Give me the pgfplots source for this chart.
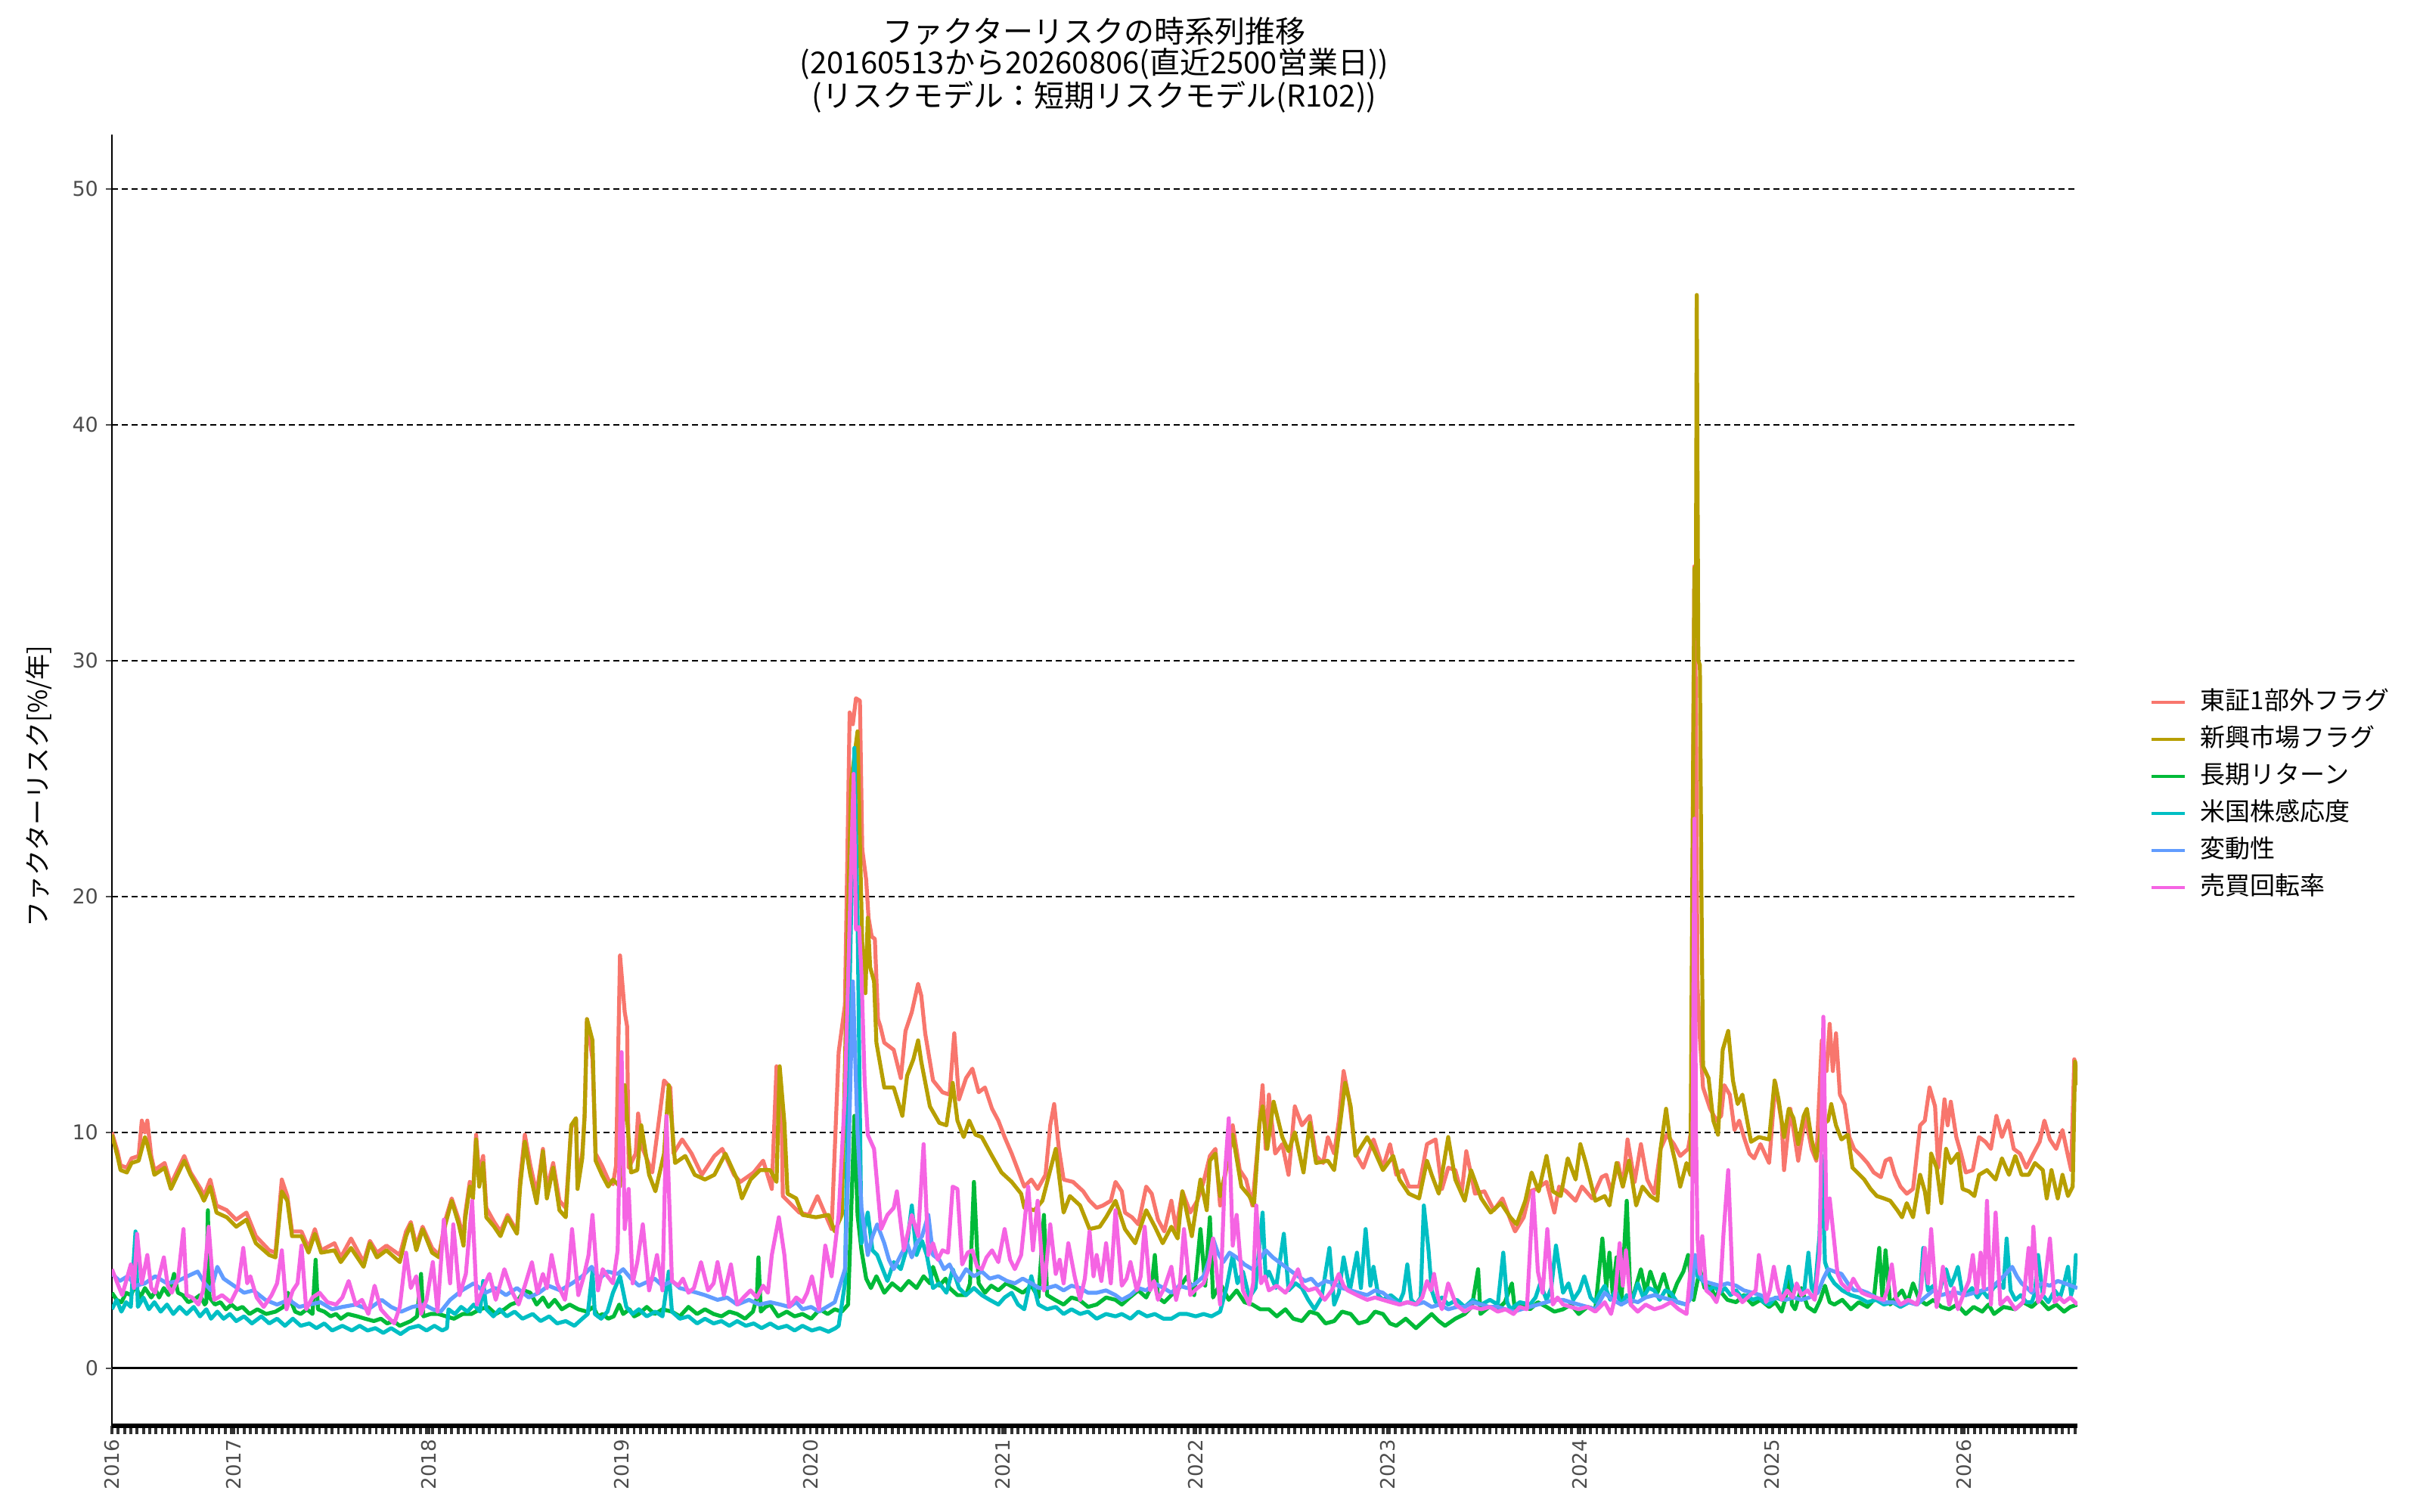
\documentclass[border=0pt]{standalone}
\usepackage{fontspec}
\setmainfont{DejaVu Sans}
\newfontfamily\jp{Noto Sans CJK JP}
\usepackage{pgfplots}
\pgfplotsset{compat=1.18}
\definecolor{cR}{HTML}{F8766D}
\definecolor{cG}{HTML}{B79F00}
\definecolor{cGr}{HTML}{00BA38}
\definecolor{cC}{HTML}{00BFC4}
\definecolor{cB}{HTML}{619CFF}
\definecolor{cP}{HTML}{F564E3}
\definecolor{tickgray}{HTML}{4D4D4D}
\begin{document}
\begin{tikzpicture}
\path[use as bounding box] (0pt,0pt) rectangle (1600pt,1000pt);
\begin{axis}[
  at={(74pt,57pt)}, anchor=south west,
  scale only axis, width=1299.5pt, height=854pt,
  xmin=0, xmax=2499, ymin=-2.44, ymax=52.3,
  axis x line*=bottom, axis y line*=left,
  x axis line style={line width=3pt, -},
  y axis line style={line width=1.4pt, -},
  xtick={0,155,403,648,888,1133,1378,1622,1866,2111,2355},
  xticklabels={2016,2017,2018,2019,2020,2021,2022,2023,2024,2025,2026},
  minor xtick={0,8,...,2496},
  xtick style={color=black!80, line width=1.9pt},
  minor x tick style={color=black!80, line width=1.9pt},
  major tick length=5.5pt, minor tick length=5.5pt,
  tick align=outside,
  ytick={10,20,30,40,50},
  extra y ticks={0},
  extra y tick style={major grid style={solid, black, line width=1.5pt}},
  ytick style={color=tickgray, line width=1pt, /pgfplots/major tick length=4pt},
  xticklabel style={rotate=90, anchor=east, font=\fontsize{13}{15}\selectfont, text=tickgray},
  yticklabel style={font=\fontsize{13.5}{15}\selectfont, text=tickgray},
  /pgf/number format/assume math mode=true,
  ymajorgrids, major grid style={dash pattern=on 4pt off 2.5pt, black, line width=1pt},
  legend cell align=left,
  legend style={at={(1.0369,0.5726)}, anchor=north west, draw=none, fill=none,
    inner sep=0pt, row sep=3.5pt,
    nodes={inner sep=2pt, text height=13pt, text depth=4pt},
    font=\jp\fontsize{16.5}{18}\selectfont},
  legend image code/.code={\draw[#1, line width=2pt] (0pt,0pt) -- (22pt,0pt); \path (29pt,0pt);},
  every axis plot/.append style={line width=2.6pt, line join=round, mark=none},
  clip=true,
]
% 東証1部外フラグ
\addplot[cR] coordinates {
(0,10.0)(7,9.2)(11,8.6)(19,8.5)(25,8.9)(34,9.0)(38,10.5)(42,10.0)(45,10.5)(50,9.0)(54,8.4)(67,8.7)(75,7.8)(92,9.0)(100,8.3)(113,7.6)(117,7.3)(125,8.0)(133,6.9)(146,6.7)(158,6.3)(171,6.6)(183,5.6)(200,5.0)(208,4.9)(216,8.0)(223,7.3)(229,5.8)(241,5.8)(250,5.1)(258,5.9)(266,5.0)(283,5.3)(291,4.7)(304,5.5)(320,4.5)(328,5.4)(337,4.9)(349,5.2)(366,4.8)(374,5.8)(380,6.2)(387,5.2)(395,6.0)(407,5.1)(416,4.8)(424,6.3)(432,7.2)(441,6.3)(447,5.5)(449,6.5)(455,7.9)(459,7.4)(463,9.9)(467,8.2)(472,9.0)(476,6.8)(486,6.2)(494,5.8)(503,6.5)(515,5.8)(519,8.0)(525,9.9)(532,8.6)(540,7.4)(548,9.3)(553,7.6)(561,8.7)(569,7.1)(577,6.8)(584,10.2)(590,10.6)(592,7.9)(598,9.1)(601,10.7)(604,14.8)(611,13.1)(615,9.1)(623,8.6)(631,8.0)(637,7.8)(641,8.6)(646,17.5)(652,15.1)(655,14.5)(657,8.5)(666,9.1)(669,10.8)(675,9.3)(687,8.3)(702,12.2)(710,11.9)(714,9.1)(725,9.7)(737,9.1)(750,8.2)(766,9.0)(776,9.3)(791,8.2)(799,7.9)(816,8.3)(828,8.8)(839,7.6)(845,12.8)(851,11.6)(853,7.3)(874,6.6)(886,6.5)(897,7.3)(915,5.9)(924,13.4)(932,15.4)(938,27.8)(942,27.3)(946,28.4)(951,28.3)(954,22.0)(959,20.7)(962,19.1)(966,18.3)(970,18.2)(974,14.8)(977,14.5)(982,13.8)(994,13.5)(1003,12.3)(1009,14.3)(1017,15.1)(1025,16.3)(1029,15.8)(1034,14.2)(1044,12.2)(1056,11.7)(1065,11.6)(1071,14.2)(1077,11.4)(1086,12.3)(1094,12.7)(1102,11.7)(1110,11.9)(1119,11.0)(1127,10.5)(1135,9.8)(1144,9.1)(1152,8.4)(1160,7.7)(1169,8.0)(1177,7.6)(1187,8.2)(1193,10.3)(1198,11.2)(1204,9.3)(1210,8.0)(1222,7.9)(1235,7.5)(1243,7.1)(1252,6.8)(1260,6.9)(1270,7.1)(1276,7.9)(1284,7.5)(1288,6.6)(1297,6.4)(1305,6.1)(1315,7.7)(1322,7.4)(1330,6.3)(1338,5.8)(1347,7.1)(1353,5.9)(1361,7.5)(1371,6.6)(1380,7.1)(1388,7.9)(1396,9.0)(1403,9.3)(1409,6.9)(1417,8.5)(1425,10.3)(1434,8.4)(1442,8.0)(1450,6.9)(1456,9.1)(1463,12.0)(1467,9.3)(1471,11.6)(1479,9.1)(1488,9.5)(1496,8.2)(1504,11.1)(1513,10.3)(1523,10.7)(1531,9.0)(1540,8.7)(1546,9.8)(1554,9.1)(1560,10.5)(1566,12.6)(1573,11.4)(1581,9.1)(1591,8.5)(1604,9.7)(1616,8.5)(1625,9.5)(1633,8.2)(1641,8.4)(1649,7.7)(1662,7.7)(1672,9.5)(1683,9.7)(1691,7.6)(1699,8.5)(1708,8.4)(1716,7.4)(1722,9.2)(1733,7.4)(1745,7.5)(1757,6.7)(1768,7.2)(1778,6.3)(1784,5.8)(1795,6.4)(1803,7.5)(1811,7.6)(1824,7.9)(1834,6.6)(1840,7.7)(1849,7.5)(1861,7.1)(1869,7.7)(1882,7.2)(1894,8.1)(1900,8.2)(1906,7.5)(1915,8.7)(1921,7.7)(1927,9.7)(1936,7.9)(1944,9.5)(1952,8.0)(1961,7.4)(1969,9.3)(1977,9.9)(1986,9.5)(1994,9.0)(2004,9.3)(2009,10.3)(2010,23.0)(2012,34.0)(2014,28.0)(2016,16.2)(2019,14.0)(2023,11.9)(2032,11.0)(2040,10.5)(2046,10.7)(2050,12.0)(2057,11.6)(2063,10.1)(2069,10.5)(2075,9.8)(2082,9.1)(2088,8.9)(2096,9.5)(2107,8.7)(2115,12.1)(2123,10.4)(2126,8.4)(2134,11.0)(2144,8.8)(2153,10.7)(2161,9.3)(2167,8.8)(2174,13.9)(2180,12.6)(2184,14.6)(2188,12.6)(2192,14.2)(2197,11.6)(2203,11.2)(2209,9.8)(2215,9.3)(2224,9.0)(2232,8.7)(2240,8.3)(2249,8.1)(2255,8.8)(2261,8.9)(2267,8.2)(2274,7.7)(2282,7.4)(2290,7.6)(2299,10.3)(2305,10.5)(2311,11.9)(2318,11.1)(2322,8.5)(2330,11.4)(2334,10.3)(2338,11.3)(2345,9.8)(2351,9.1)(2357,8.3)(2366,8.4)(2374,9.8)(2382,9.6)(2389,9.3)(2396,10.7)(2403,9.8)(2411,10.5)(2418,9.3)(2426,9.1)(2434,8.5)(2443,9.1)(2451,9.6)(2457,10.5)(2464,9.7)(2472,9.3)(2480,10.1)(2487,9.0)(2491,8.4)(2495,13.1)(2499,12.6)
};
\addlegendentry{東証1部外フラグ}
% 新興市場フラグ
\addplot[cG] coordinates {
(0,9.9)(7,9.0)(11,8.4)(19,8.3)(25,8.7)(34,8.8)(42,9.8)(45,9.5)(50,8.8)(54,8.2)(67,8.5)(75,7.6)(92,8.8)(100,8.2)(113,7.4)(117,7.1)(125,7.7)(133,6.6)(146,6.4)(158,6.0)(171,6.3)(183,5.3)(200,4.8)(208,4.7)(216,7.5)(223,7.1)(229,5.6)(241,5.6)(250,4.9)(258,5.7)(266,4.9)(283,5.0)(291,4.5)(304,5.1)(320,4.3)(328,5.3)(337,4.7)(349,5.0)(366,4.5)(374,5.6)(380,6.1)(387,5.0)(395,5.9)(407,4.9)(416,4.7)(424,6.1)(432,7.1)(441,6.1)(447,5.2)(449,6.3)(455,7.7)(459,7.2)(463,9.7)(467,7.7)(472,8.7)(476,6.4)(486,6.0)(494,5.6)(503,6.4)(515,5.7)(519,7.7)(525,9.6)(532,8.2)(540,7.0)(548,9.2)(553,7.2)(561,8.5)(569,6.7)(577,6.4)(584,10.3)(590,10.6)(592,7.6)(598,8.9)(601,10.7)(604,14.8)(611,13.9)(615,8.8)(623,8.2)(631,7.7)(637,8.0)(646,7.7)(652,12.0)(660,8.3)(668,8.4)(673,10.3)(683,8.2)(691,7.5)(702,9.1)(708,12.0)(716,8.7)(729,9.0)(741,8.2)(754,8.0)(766,8.2)(780,9.1)(795,8.0)(801,7.2)(812,8.0)(824,8.4)(837,8.4)(845,7.9)(849,12.8)(855,10.4)(859,7.4)(870,7.2)(878,6.5)(895,6.4)(911,6.5)(919,5.8)(928,6.5)(937,20.7)(940,24.9)(948,27.0)(951,22.3)(954,18.0)(958,15.9)(961,19.1)(964,17.0)(969,16.4)(972,13.8)(982,11.9)(994,11.9)(1005,10.7)(1011,12.4)(1019,13.1)(1025,13.9)(1029,13.0)(1040,11.1)(1052,10.4)(1061,10.3)(1069,12.1)(1075,10.5)(1083,9.8)(1090,10.5)(1098,9.9)(1106,9.8)(1119,9.0)(1131,8.3)(1144,7.9)(1156,7.4)(1160,6.8)(1173,6.7)(1183,7.1)(1193,8.4)(1200,9.3)(1210,6.6)(1218,7.3)(1231,6.9)(1243,5.9)(1256,6.0)(1264,6.4)(1276,7.1)(1288,5.9)(1301,5.3)(1315,6.7)(1326,6.0)(1336,5.3)(1347,6.0)(1355,5.5)(1361,7.5)(1373,5.6)(1384,8.0)(1392,6.7)(1396,8.8)(1403,9.1)(1409,7.3)(1415,8.2)(1425,9.9)(1436,7.7)(1446,7.3)(1452,6.9)(1459,10.4)(1463,11.1)(1469,9.3)(1477,11.3)(1488,9.8)(1496,9.2)(1504,10.0)(1515,8.3)(1523,10.4)(1531,8.7)(1546,8.8)(1554,8.4)(1562,10.5)(1568,12.1)(1575,11.1)(1581,9.0)(1596,9.8)(1604,9.3)(1616,8.4)(1629,9.0)(1637,8.0)(1649,7.4)(1662,7.2)(1672,8.8)(1678,8.2)(1687,7.4)(1699,9.8)(1708,8.0)(1720,7.1)(1728,8.4)(1741,7.2)(1753,6.6)(1766,7.0)(1778,6.4)(1786,6.1)(1797,7.1)(1805,8.3)(1814,7.5)(1824,9.0)(1832,7.5)(1842,7.3)(1851,8.9)(1861,8.0)(1867,9.5)(1874,8.7)(1886,7.1)(1898,7.3)(1904,6.9)(1913,8.7)(1921,7.7)(1929,8.8)(1938,6.9)(1946,7.7)(1956,7.3)(1965,7.1)(1969,9.3)(1976,11.0)(1981,9.7)(1988,8.7)(1994,7.7)(2002,8.7)(2007,8.2)(2010,23.8)(2012,33.9)(2014,34.0)(2015,45.5)(2017,30.0)(2019,29.8)(2021,20.0)(2023,12.8)(2030,12.3)(2036,10.5)(2042,9.9)(2048,13.5)(2055,14.3)(2061,12.2)(2067,11.2)(2073,11.6)(2078,10.7)(2084,9.6)(2094,9.8)(2107,9.7)(2114,12.2)(2119,11.4)(2126,9.8)(2132,11.0)(2138,10.6)(2144,9.5)(2151,10.7)(2155,11.0)(2161,9.7)(2167,8.9)(2174,10.3)(2182,10.5)(2186,11.2)(2192,10.3)(2199,9.7)(2207,9.9)(2213,8.5)(2219,8.3)(2228,8.0)(2236,7.6)(2244,7.3)(2253,7.2)(2261,7.1)(2270,6.7)(2276,6.4)(2282,7.0)(2290,6.4)(2299,8.2)(2305,7.5)(2309,6.6)(2313,9.1)(2320,8.5)(2326,7.0)(2332,9.3)(2338,8.7)(2347,9.1)(2353,7.6)(2361,7.5)(2368,7.3)(2374,8.2)(2384,8.4)(2395,8.0)(2403,8.9)(2412,8.2)(2420,9.0)(2428,8.2)(2437,8.2)(2445,8.7)(2455,8.4)(2460,7.2)(2466,8.4)(2474,7.2)(2480,8.2)(2487,7.3)(2493,7.7)(2496,13.0)(2499,12.0)
};
\addlegendentry{新興市場フラグ}
% 長期リターン
\addplot[cGr] coordinates {
(0,3.2)(6,2.9)(12,2.8)(18,3.2)(24,3.1)(30,3.5)(36,3.0)(42,3.4)(50,3.0)(56,3.3)(60,3.0)(66,3.4)(72,3.1)(79,4.0)(84,3.2)(90,3.1)(97,2.8)(104,2.9)(112,3.1)(118,2.7)(120,2.8)(122,6.7)(124,3.0)(131,2.7)(138,2.8)(145,2.5)(152,2.7)(159,2.5)(166,2.6)(175,2.3)(185,2.5)(196,2.3)(208,2.4)(218,2.6)(224,3.2)(227,2.9)(233,2.4)(240,2.3)(248,2.5)(255,2.3)(259,4.6)(262,2.5)(270,2.4)(278,2.2)(285,2.3)(291,2.1)(300,2.3)(312,2.2)(322,2.1)(333,2.0)(342,2.1)(350,1.9)(358,2.0)(366,1.8)(373,1.9)(380,2.0)(388,2.2)(393,4.0)(396,2.2)(405,2.3)(415,2.3)(425,2.2)(435,2.1)(446,2.3)(457,2.3)(468,2.5)(478,2.6)(488,2.3)(499,2.5)(507,2.7)(515,2.8)(524,3.3)(532,3.2)(540,2.7)(548,3.0)(555,2.6)(563,2.9)(572,2.5)(582,2.7)(593,2.5)(604,2.4)(612,2.6)(618,2.2)(624,2.3)(631,2.1)(638,2.2)(645,2.7)(650,2.3)(658,2.5)(664,2.2)(670,2.3)(680,2.6)(690,2.3)(700,2.5)(712,2.4)(722,2.2)(733,2.6)(744,2.3)(754,2.5)(765,2.3)(775,2.2)(785,2.4)(795,2.3)(805,2.1)(815,2.4)(820,3.0)(822,4.7)(825,2.4)(831,2.6)(837,2.7)(847,2.2)(858,2.4)(868,2.2)(878,2.3)(889,2.1)(900,2.5)(910,2.3)(919,2.5)(928,2.4)(936,2.7)(944,10.7)(948,6.5)(953,5.0)(959,3.8)(965,3.4)(972,3.9)(982,3.2)(992,3.6)(1003,3.3)(1013,3.7)(1023,3.4)(1032,3.9)(1040,3.6)(1044,4.3)(1052,3.5)(1060,3.8)(1065,3.4)(1075,3.1)(1086,3.1)(1091,3.6)(1096,7.9)(1102,3.6)(1110,3.2)(1118,3.5)(1127,3.3)(1137,3.6)(1148,3.4)(1158,3.2)(1169,3.5)(1178,3.0)(1185,6.5)(1189,3.1)(1199,2.9)(1210,2.7)(1220,3.0)(1230,2.9)(1241,2.6)(1252,2.7)(1264,3.0)(1276,2.9)(1284,2.7)(1294,3.0)(1305,3.3)(1315,3.0)(1322,3.5)(1326,4.8)(1330,3.0)(1338,2.8)(1347,3.1)(1357,3.4)(1367,3.9)(1376,3.1)(1384,5.9)(1390,3.5)(1396,6.4)(1400,3.0)(1409,3.6)(1420,2.9)(1430,3.3)(1440,2.8)(1450,2.7)(1460,2.5)(1471,2.5)(1481,2.2)(1492,2.5)(1502,2.1)(1513,2.0)(1523,2.4)(1533,2.3)(1543,1.9)(1554,2.0)(1564,2.4)(1575,2.3)(1585,1.9)(1596,2.0)(1606,2.4)(1616,2.3)(1625,1.9)(1633,1.8)(1645,2.1)(1658,1.7)(1668,2.0)(1678,2.3)(1687,2.0)(1695,1.8)(1708,2.1)(1720,2.3)(1729,2.6)(1737,4.2)(1740,2.3)(1751,2.6)(1762,2.5)(1771,2.8)(1780,3.6)(1784,2.4)(1793,2.7)(1803,2.5)(1813,2.8)(1824,2.6)(1834,2.4)(1845,2.5)(1855,2.7)(1865,2.3)(1876,2.6)(1886,2.5)(1895,5.5)(1900,3.4)(1904,4.9)(1908,3.2)(1913,4.7)(1919,2.7)(1926,7.1)(1931,2.7)(1938,3.5)(1944,4.2)(1950,3.2)(1956,4.1)(1965,3.2)(1973,4.0)(1982,2.9)(1990,3.6)(1998,4.1)(2004,4.8)(2011,2.9)(2019,4.2)(2025,3.4)(2032,3.6)(2038,3.0)(2044,3.3)(2054,2.9)(2065,2.8)(2075,3.1)(2086,2.7)(2096,2.9)(2107,2.6)(2115,2.8)(2123,2.4)(2128,3.0)(2132,4.3)(2136,2.7)(2140,2.5)(2148,3.4)(2156,2.6)(2165,2.4)(2172,2.9)(2178,3.5)(2184,2.8)(2190,2.7)(2200,2.9)(2211,2.5)(2221,2.8)(2232,2.6)(2240,2.9)(2247,5.1)(2251,3.0)(2255,5.0)(2261,2.7)(2268,3.0)(2276,3.3)(2283,2.8)(2290,3.6)(2298,2.9)(2307,2.7)(2316,2.9)(2326,2.6)(2336,2.5)(2346,2.7)(2357,2.3)(2367,2.6)(2378,2.4)(2386,2.7)(2393,2.3)(2405,2.6)(2420,2.5)(2430,2.8)(2441,2.6)(2451,2.9)(2462,2.5)(2472,2.7)(2482,2.4)(2490,2.6)(2499,2.7)
};
\addlegendentry{長期リターン}
% 米国株感応度
\addplot[cC] coordinates {
(0,2.5)(6,2.9)(12,2.4)(18,2.8)(24,2.6)(30,5.8)(33,2.6)(40,3.0)(47,2.5)(54,2.8)(62,2.4)(70,2.7)(78,2.3)(86,2.6)(95,2.3)(104,2.6)(112,2.2)(120,2.5)(126,2.1)(134,2.4)(142,2.1)(150,2.3)(158,2.0)(168,2.2)(178,1.9)(190,2.2)(200,1.9)(210,2.1)(220,1.8)(230,2.1)(240,1.8)(251,1.9)(260,1.7)(270,1.9)(280,1.6)(293,1.8)(305,1.6)(315,1.8)(325,1.6)(335,1.7)(345,1.5)(355,1.7)(367,1.45)(378,1.7)(390,1.8)(400,1.6)(410,1.8)(420,1.6)(426,1.7)(428,2.5)(436,2.3)(444,2.6)(452,2.4)(460,2.7)(468,2.4)(472,3.7)(476,2.5)(485,2.2)(493,2.5)(502,2.2)(512,2.4)(522,2.1)(535,2.3)(545,2.0)(556,2.2)(566,1.9)(577,2.0)(588,1.8)(598,2.1)(605,2.3)(611,4.1)(614,2.3)(622,2.1)(630,2.4)(637,3.2)(646,3.9)(654,2.6)(662,2.3)(670,2.5)(680,2.2)(691,2.4)(700,2.2)(708,4.1)(712,2.4)(722,2.1)(733,2.2)(744,1.9)(754,2.1)(765,1.9)(775,2.0)(785,1.8)(795,2.0)(806,1.8)(816,1.9)(826,1.7)(837,1.9)(847,1.7)(858,1.8)(868,1.6)(878,1.8)(890,1.6)(900,1.7)(911,1.55)(920,1.7)(924,1.8)(932,3.6)(938,16.2)(944,26.3)(948,19.1)(953,5.3)(961,6.6)(967,5.0)(973,4.8)(980,4.2)(986,3.7)(994,4.5)(1003,4.2)(1010,5.0)(1017,6.9)(1023,4.8)(1030,5.4)(1036,4.8)(1044,3.4)(1052,3.6)(1061,3.2)(1069,4.2)(1077,3.4)(1086,3.1)(1096,3.4)(1106,3.1)(1116,2.9)(1127,2.7)(1135,3.0)(1144,3.2)(1152,2.7)(1160,2.5)(1169,3.9)(1178,2.7)(1189,2.5)(1200,2.6)(1210,2.3)(1220,2.5)(1231,2.3)(1241,2.4)(1252,2.1)(1264,2.3)(1276,2.2)(1284,2.3)(1295,2.1)(1305,2.4)(1316,2.2)(1326,2.3)(1337,2.1)(1347,2.1)(1357,2.3)(1367,2.3)(1378,2.2)(1388,2.3)(1398,2.2)(1409,2.4)(1417,3.4)(1425,4.8)(1431,3.6)(1438,4.1)(1446,3.0)(1454,3.4)(1463,6.6)(1467,3.8)(1471,4.1)(1480,3.4)(1490,5.7)(1496,3.3)(1505,3.6)(1513,3.4)(1521,2.9)(1529,2.5)(1538,3.0)(1548,5.1)(1554,2.7)(1560,3.2)(1566,4.7)(1574,3.3)(1583,4.9)(1588,3.4)(1594,5.9)(1600,3.5)(1604,4.3)(1610,3.1)(1616,2.9)(1626,3.1)(1637,2.8)(1642,3.2)(1647,4.4)(1652,2.9)(1658,2.7)(1664,3.0)(1668,6.9)(1674,5.0)(1678,3.3)(1683,2.8)(1691,3.0)(1699,2.7)(1710,2.9)(1720,2.6)(1730,2.9)(1741,2.7)(1752,2.9)(1762,2.7)(1769,4.9)(1774,2.8)(1778,2.5)(1790,2.8)(1803,2.7)(1810,3.0)(1816,3.6)(1824,2.9)(1830,3.4)(1836,5.2)(1845,3.2)(1852,3.6)(1858,2.9)(1866,3.3)(1872,3.9)(1880,3.0)(1886,2.8)(1892,3.2)(1898,3.5)(1905,2.9)(1912,3.3)(1919,2.7)(1926,3.1)(1933,2.9)(1940,3.6)(1947,3.0)(1954,3.4)(1961,3.3)(1968,2.9)(1975,3.3)(1982,3.2)(1990,2.8)(2002,2.7)(2007,3.0)(2011,4.8)(2016,3.9)(2023,3.7)(2030,3.3)(2037,3.5)(2044,3.2)(2051,3.4)(2058,3.1)(2065,3.3)(2072,3.0)(2079,3.1)(2086,2.9)(2094,3.0)(2100,2.8)(2107,2.7)(2115,3.0)(2124,2.9)(2132,4.3)(2137,3.3)(2143,3.5)(2148,3.1)(2152,3.4)(2157,4.9)(2161,3.4)(2165,3.2)(2171,5.6)(2174,9.0)(2178,4.5)(2184,3.9)(2190,3.6)(2200,3.3)(2211,3.1)(2221,3.0)(2232,2.8)(2243,2.9)(2253,2.7)(2264,2.8)(2274,2.6)(2285,2.8)(2295,2.7)(2299,3.2)(2303,5.1)(2309,3.3)(2316,3.5)(2322,3.0)(2328,3.8)(2332,4.2)(2338,3.5)(2343,3.9)(2347,4.3)(2352,3.3)(2357,3.1)(2365,3.4)(2372,3.0)(2378,3.3)(2385,3.0)(2392,3.4)(2399,3.6)(2405,3.4)(2409,5.5)(2414,3.3)(2420,2.9)(2427,3.1)(2434,2.8)(2441,2.8)(2445,3.2)(2449,4.8)(2455,3.1)(2462,2.8)(2470,3.3)(2477,3.0)(2482,3.6)(2487,4.3)(2491,3.1)(2495,3.6)(2497,4.8)(2499,4.4)
};
\addlegendentry{米国株感応度}
% 変動性
\addplot[cB] coordinates {
(0,4.0)(10,3.7)(20,3.9)(30,3.5)(42,3.6)(55,3.9)(70,3.6)(84,3.7)(96,3.9)(109,4.1)(118,3.6)(126,3.3)(134,4.3)(142,3.8)(155,3.5)(168,3.2)(180,3.3)(195,2.9)(210,2.7)(225,2.9)(238,2.6)(251,2.7)(265,2.8)(280,2.5)(293,2.6)(310,2.7)(326,2.5)(343,2.9)(355,2.6)(368,2.4)(382,2.6)(397,2.7)(408,2.5)(418,2.4)(430,2.9)(445,3.3)(460,3.6)(475,3.2)(488,3.4)(501,3.1)(515,3.4)(530,3.0)(543,3.2)(555,3.5)(570,3.3)(585,3.6)(598,3.9)(610,4.3)(620,3.8)(630,4.1)(643,4.0)(650,4.2)(660,3.8)(670,3.5)(690,3.8)(700,3.5)(712,3.7)(722,3.4)(733,3.3)(744,3.2)(754,3.1)(770,2.9)(782,3.0)(795,2.7)(810,2.9)(823,2.7)(837,2.8)(850,2.7)(861,2.6)(870,2.8)(878,2.5)(889,2.6)(899,2.4)(909,2.6)(919,2.8)(932,4.2)(936,8.2)(942,16.4)(948,10.0)(953,6.8)(961,4.8)(967,5.6)(973,6.1)(982,5.3)(988,4.6)(994,4.2)(1003,4.8)(1011,5.3)(1017,4.7)(1023,5.3)(1030,5.6)(1038,6.5)(1044,4.8)(1052,4.6)(1058,4.2)(1065,4.4)(1071,4.0)(1077,3.7)(1086,4.2)(1096,3.9)(1106,4.1)(1116,3.8)(1127,3.9)(1138,3.7)(1148,3.6)(1158,3.8)(1169,3.6)(1179,3.4)(1189,3.4)(1200,3.5)(1210,3.3)(1220,3.5)(1231,3.4)(1241,3.2)(1252,3.2)(1264,3.3)(1276,3.1)(1284,2.9)(1295,3.1)(1305,3.4)(1315,3.3)(1326,3.6)(1337,3.4)(1347,3.2)(1357,3.5)(1367,3.4)(1378,3.6)(1388,3.9)(1395,4.6)(1400,5.5)(1406,4.9)(1413,4.5)(1421,4.9)(1430,4.7)(1440,4.4)(1450,4.2)(1459,4.6)(1467,5.0)(1476,4.7)(1484,4.5)(1492,4.3)(1500,4.1)(1508,3.9)(1517,3.7)(1525,3.8)(1533,3.5)(1543,3.7)(1554,3.6)(1564,3.4)(1575,3.3)(1585,3.2)(1596,3.1)(1606,3.3)(1616,3.2)(1627,2.9)(1637,2.7)(1647,2.8)(1658,2.7)(1668,2.8)(1678,2.6)(1688,2.7)(1699,2.5)(1710,2.6)(1720,2.6)(1730,2.8)(1741,2.7)(1751,2.6)(1762,2.6)(1772,2.5)(1782,2.4)(1792,2.5)(1803,2.6)(1813,2.7)(1824,2.8)(1834,2.9)(1845,2.9)(1855,2.8)(1865,2.7)(1876,2.6)(1886,2.5)(1898,3.2)(1908,2.9)(1919,2.7)(1930,2.9)(1940,2.8)(1950,3.0)(1961,3.1)(1971,3.0)(1982,2.9)(1992,2.8)(2002,2.7)(2008,3.0)(2013,4.8)(2018,4.1)(2023,3.7)(2033,3.6)(2044,3.5)(2054,3.6)(2065,3.5)(2075,3.3)(2086,3.2)(2096,3.1)(2107,2.9)(2118,3.0)(2128,2.9)(2138,3.0)(2148,2.9)(2158,3.0)(2169,3.2)(2176,3.8)(2182,4.2)(2190,4.1)(2199,4.0)(2207,3.6)(2215,3.3)(2224,3.3)(2232,3.2)(2243,3.0)(2253,2.8)(2264,2.8)(2274,2.7)(2285,2.8)(2295,2.7)(2305,3.0)(2316,3.3)(2326,3.1)(2336,3.2)(2347,3.2)(2357,3.1)(2368,3.2)(2378,3.3)(2389,3.4)(2399,3.7)(2408,4.0)(2416,4.3)(2422,3.9)(2428,3.6)(2435,3.4)(2441,3.2)(2447,3.4)(2453,3.6)(2464,3.5)(2474,3.7)(2483,3.6)(2491,3.5)(2499,3.4)
};
\addlegendentry{変動性}
% 売買回転率
\addplot[cP] coordinates {
(0,4.2)(7,3.6)(13,3.1)(19,3.8)(24,4.4)(28,3.4)(32,5.7)(38,3.6)(45,4.8)(50,3.4)(55,3.2)(60,3.9)(66,4.7)(71,3.5)(76,3.2)(84,3.8)(91,5.9)(95,3.1)(102,3.0)(110,2.7)(116,3.3)(123,6.0)(130,2.9)(140,3.1)(151,2.8)(160,3.4)(167,5.1)(172,3.6)(176,3.9)(184,3.0)(193,2.6)(203,3.1)(210,3.6)(216,5.0)(222,2.5)(230,3.3)(236,3.6)(241,5.2)(247,2.5)(255,3.0)(264,3.2)(274,2.8)(285,2.7)(293,3.0)(301,3.7)(310,2.7)(318,2.9)(326,2.3)(334,3.5)(342,2.5)(350,2.2)(359,1.9)(366,2.6)(374,4.9)(380,3.4)(387,3.9)(393,2.3)(400,2.9)(408,4.5)(414,2.4)(422,6.3)(430,3.6)(434,6.1)(442,3.1)(450,4.0)(458,7.1)(464,2.7)(472,3.4)(480,4.0)(488,2.9)(499,4.2)(508,3.3)(517,2.7)(525,3.5)(534,4.5)(541,3.2)(548,4.0)(553,3.4)(559,4.8)(566,3.6)(576,2.9)(580,3.8)(585,5.9)(593,3.1)(600,3.9)(606,4.8)(611,6.5)(618,3.3)(624,4.2)(630,3.9)(637,3.6)(643,5.0)(648,13.4)(652,5.9)(657,7.6)(662,3.6)(668,4.5)(675,6.1)(683,3.3)(688,4.0)(693,4.8)(700,3.3)(705,10.7)(712,3.7)(720,3.5)(726,3.8)(733,3.2)(740,3.4)(749,4.5)(758,3.3)(765,3.6)(770,4.5)(778,3.1)(787,4.4)(795,2.7)(803,3.0)(812,3.3)(820,3.0)(828,3.5)(834,3.2)(839,4.8)(848,6.4)(855,4.8)(861,2.6)(870,3.0)(878,2.8)(884,3.2)(890,3.9)(899,2.5)(907,5.2)(915,3.9)(924,6.5)(932,11.6)(943,25.2)(946,18.6)(950,18.7)(953,16.7)(957,12.2)(961,9.9)(969,9.3)(978,5.9)(986,6.5)(994,6.8)(998,7.5)(1007,5.0)(1017,6.5)(1025,5.6)(1032,9.5)(1038,4.8)(1044,5.3)(1050,4.6)(1056,5.0)(1063,4.9)(1069,7.7)(1075,7.6)(1081,4.4)(1088,4.9)(1094,5.0)(1100,4.3)(1106,4.2)(1112,4.7)(1119,5.0)(1127,4.5)(1135,5.9)(1142,4.6)(1148,4.2)(1156,4.8)(1165,7.7)(1171,5.0)(1177,7.1)(1185,3.3)(1193,6.1)(1200,4.0)(1205,4.6)(1210,3.6)(1216,5.3)(1224,3.9)(1231,2.9)(1237,3.8)(1243,5.8)(1248,3.9)(1252,4.8)(1258,3.7)(1264,5.3)(1270,3.6)(1276,6.7)(1284,3.5)(1290,3.8)(1295,4.5)(1303,3.3)(1308,3.9)(1313,6.0)(1320,3.3)(1325,3.7)(1330,2.9)(1338,3.4)(1347,4.3)(1353,2.9)(1358,3.6)(1363,5.9)(1371,3.1)(1380,3.4)(1388,3.6)(1394,4.2)(1400,5.5)(1409,2.7)(1415,8.2)(1420,10.6)(1425,5.2)(1430,6.5)(1438,3.3)(1446,2.7)(1451,3.6)(1455,6.9)(1461,3.6)(1466,3.9)(1471,3.3)(1481,3.5)(1492,3.2)(1500,3.6)(1508,4.2)(1514,3.5)(1521,3.3)(1531,3.4)(1542,2.9)(1551,3.3)(1560,4.0)(1566,3.5)(1571,3.3)(1583,3.1)(1596,2.9)(1606,3.0)(1616,2.9)(1626,2.8)(1637,2.7)(1648,2.8)(1658,2.7)(1666,3.0)(1672,3.7)(1677,3.3)(1681,4.0)(1686,3.0)(1691,2.5)(1695,3.0)(1699,3.6)(1709,2.7)(1720,2.4)(1730,2.6)(1741,2.5)(1752,2.6)(1762,2.4)(1772,2.5)(1782,2.3)(1790,2.6)(1799,2.5)(1807,7.5)(1813,4.1)(1819,3.2)(1825,5.9)(1832,2.7)(1838,3.0)(1845,2.7)(1855,2.6)(1865,2.5)(1876,2.6)(1886,2.4)(1898,2.8)(1906,2.3)(1911,3.0)(1917,5.3)(1921,3.5)(1925,5.0)(1931,2.7)(1940,2.4)(1950,2.7)(1961,2.5)(1971,2.6)(1982,2.8)(1992,2.5)(2002,2.3)(2009,4.9)(2012,23.3)(2014,10.0)(2016,5.5)(2019,4.0)(2022,5.6)(2027,3.3)(2034,3.1)(2040,2.8)(2045,3.4)(2049,5.7)(2055,8.4)(2061,3.2)(2067,3.1)(2073,2.8)(2083,3.1)(2090,3.3)(2094,4.8)(2103,2.8)(2108,3.3)(2113,4.3)(2118,3.4)(2123,2.9)(2130,3.3)(2137,3.0)(2142,3.6)(2148,3.1)(2156,3.3)(2165,2.9)(2171,4.8)(2176,14.9)(2180,5.9)(2184,7.2)(2190,5.3)(2194,4.0)(2199,3.6)(2208,3.3)(2214,3.8)(2219,3.5)(2225,3.2)(2232,3.1)(2242,3.0)(2253,2.9)(2258,3.4)(2263,4.4)(2268,3.0)(2274,2.7)(2284,2.9)(2295,2.7)(2300,3.3)(2305,5.1)(2309,3.6)(2313,5.9)(2320,2.6)(2324,3.2)(2328,4.3)(2336,2.7)(2342,3.4)(2347,2.5)(2356,3.3)(2361,3.7)(2366,4.8)(2371,3.2)(2376,4.9)(2380,3.4)(2384,7.1)(2389,2.7)(2395,6.6)(2401,2.7)(2410,3.0)(2420,2.5)(2430,2.8)(2437,5.1)(2440,3.3)(2443,6.0)(2449,2.8)(2456,3.2)(2464,5.5)(2470,2.8)(2476,3.0)(2482,2.8)(2490,3.0)(2499,2.7)
};
\addlegendentry{売買回転率}
\end{axis}
\node[align=center, font=\jp\fontsize{20}{20.5}\selectfont] at (723.5pt,957pt)
  {ファクターリスクの時系列推移\\(20160513から20260806(直近2500営業日))\\(リスクモデル：短期リスクモデル(R102))};
\node[rotate=90, font=\jp\fontsize{17}{19}\selectfont] at (25.5pt,480pt) {ファクターリスク[\%/年]};
\end{tikzpicture}
\end{document}
